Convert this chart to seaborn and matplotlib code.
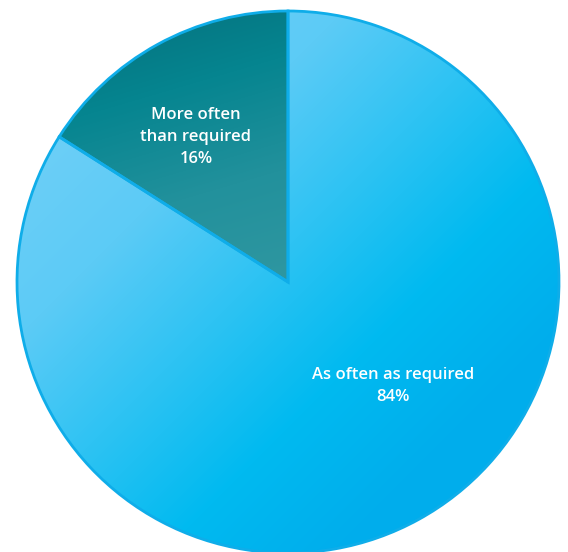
import numpy as np
import matplotlib
matplotlib.use("Agg")
import matplotlib.pyplot as plt
import seaborn as sns
from matplotlib.colors import LinearSegmentedColormap

sns.set_theme(style="white")
plt.rcParams["font.family"] = ["Open Sans", "DejaVu Sans"]

categories = ["As often as required", "More often than required"]
shares = [84, 16]
labels = ["As often as required\n84%", "More often\nthan required\n16%"]

W, H = 568, 552
fig = plt.figure(figsize=(W / 100, H / 100), dpi=100)
ax = fig.add_axes([0, 0, 1, 1])

cx, cy, r = 288, H - 282, 271
edge = "#0fade9"

wedges, _ = ax.pie(
    shares, startangle=90, counterclock=False, center=(cx, cy), radius=r,
    colors=["none", "none"],
    wedgeprops=dict(edgecolor=edge, linewidth=2.0),
    frame=True,
)
ax.set_xlim(0, W)
ax.set_ylim(0, H)
ax.set_aspect("equal")
ax.axis("off")

# Pixel grid (row 0 at the top) for the gradient fills
yy, xx = np.mgrid[0:H, 0:W].astype(float)
u = (xx - (cx - r)) / (2 * r)
v = (yy - (H - cy - r)) / (2 * r)

# Large slice: light in the upper left, deep cyan to the lower right
t_big = np.clip((u + v) / 2 * 1.5 - 0.2, 0, 1)
cmap_big = LinearSegmentedColormap.from_list(
    "big", ["#6ecff7", "#5ccbf6", "#2ec3f3", "#00baf0", "#00adec"])

# Small slice: dark teal at the top, softer teal toward the centre
ts = np.clip(((yy - 10) / 272) * 0.8 + ((xx - 57) / 231) * 0.2, 0, 1)
cmap_small = LinearSegmentedColormap.from_list(
    "small", ["#05707c", "#068590", "#22919c", "#2f97a1"])

for w, cm, tt in zip(wedges, [cmap_big, cmap_small], [t_big, ts]):
    im = ax.imshow(tt, cmap=cm, extent=(0, W, 0, H), origin="upper",
                   vmin=0, vmax=1, zorder=0, interpolation="bilinear")
    im.set_clip_path(w)
    w.set_zorder(2)

ax.text(196, H - 137, labels[1], ha="center", va="center", color="white",
        fontsize=12, fontweight="semibold", linespacing=1.5, zorder=3)
ax.text(393, H - 386, labels[0], ha="center", va="center", color="white",
        fontsize=12, fontweight="semibold", linespacing=1.5, zorder=3)

fig.savefig("out.png", dpi=100, facecolor="white")
